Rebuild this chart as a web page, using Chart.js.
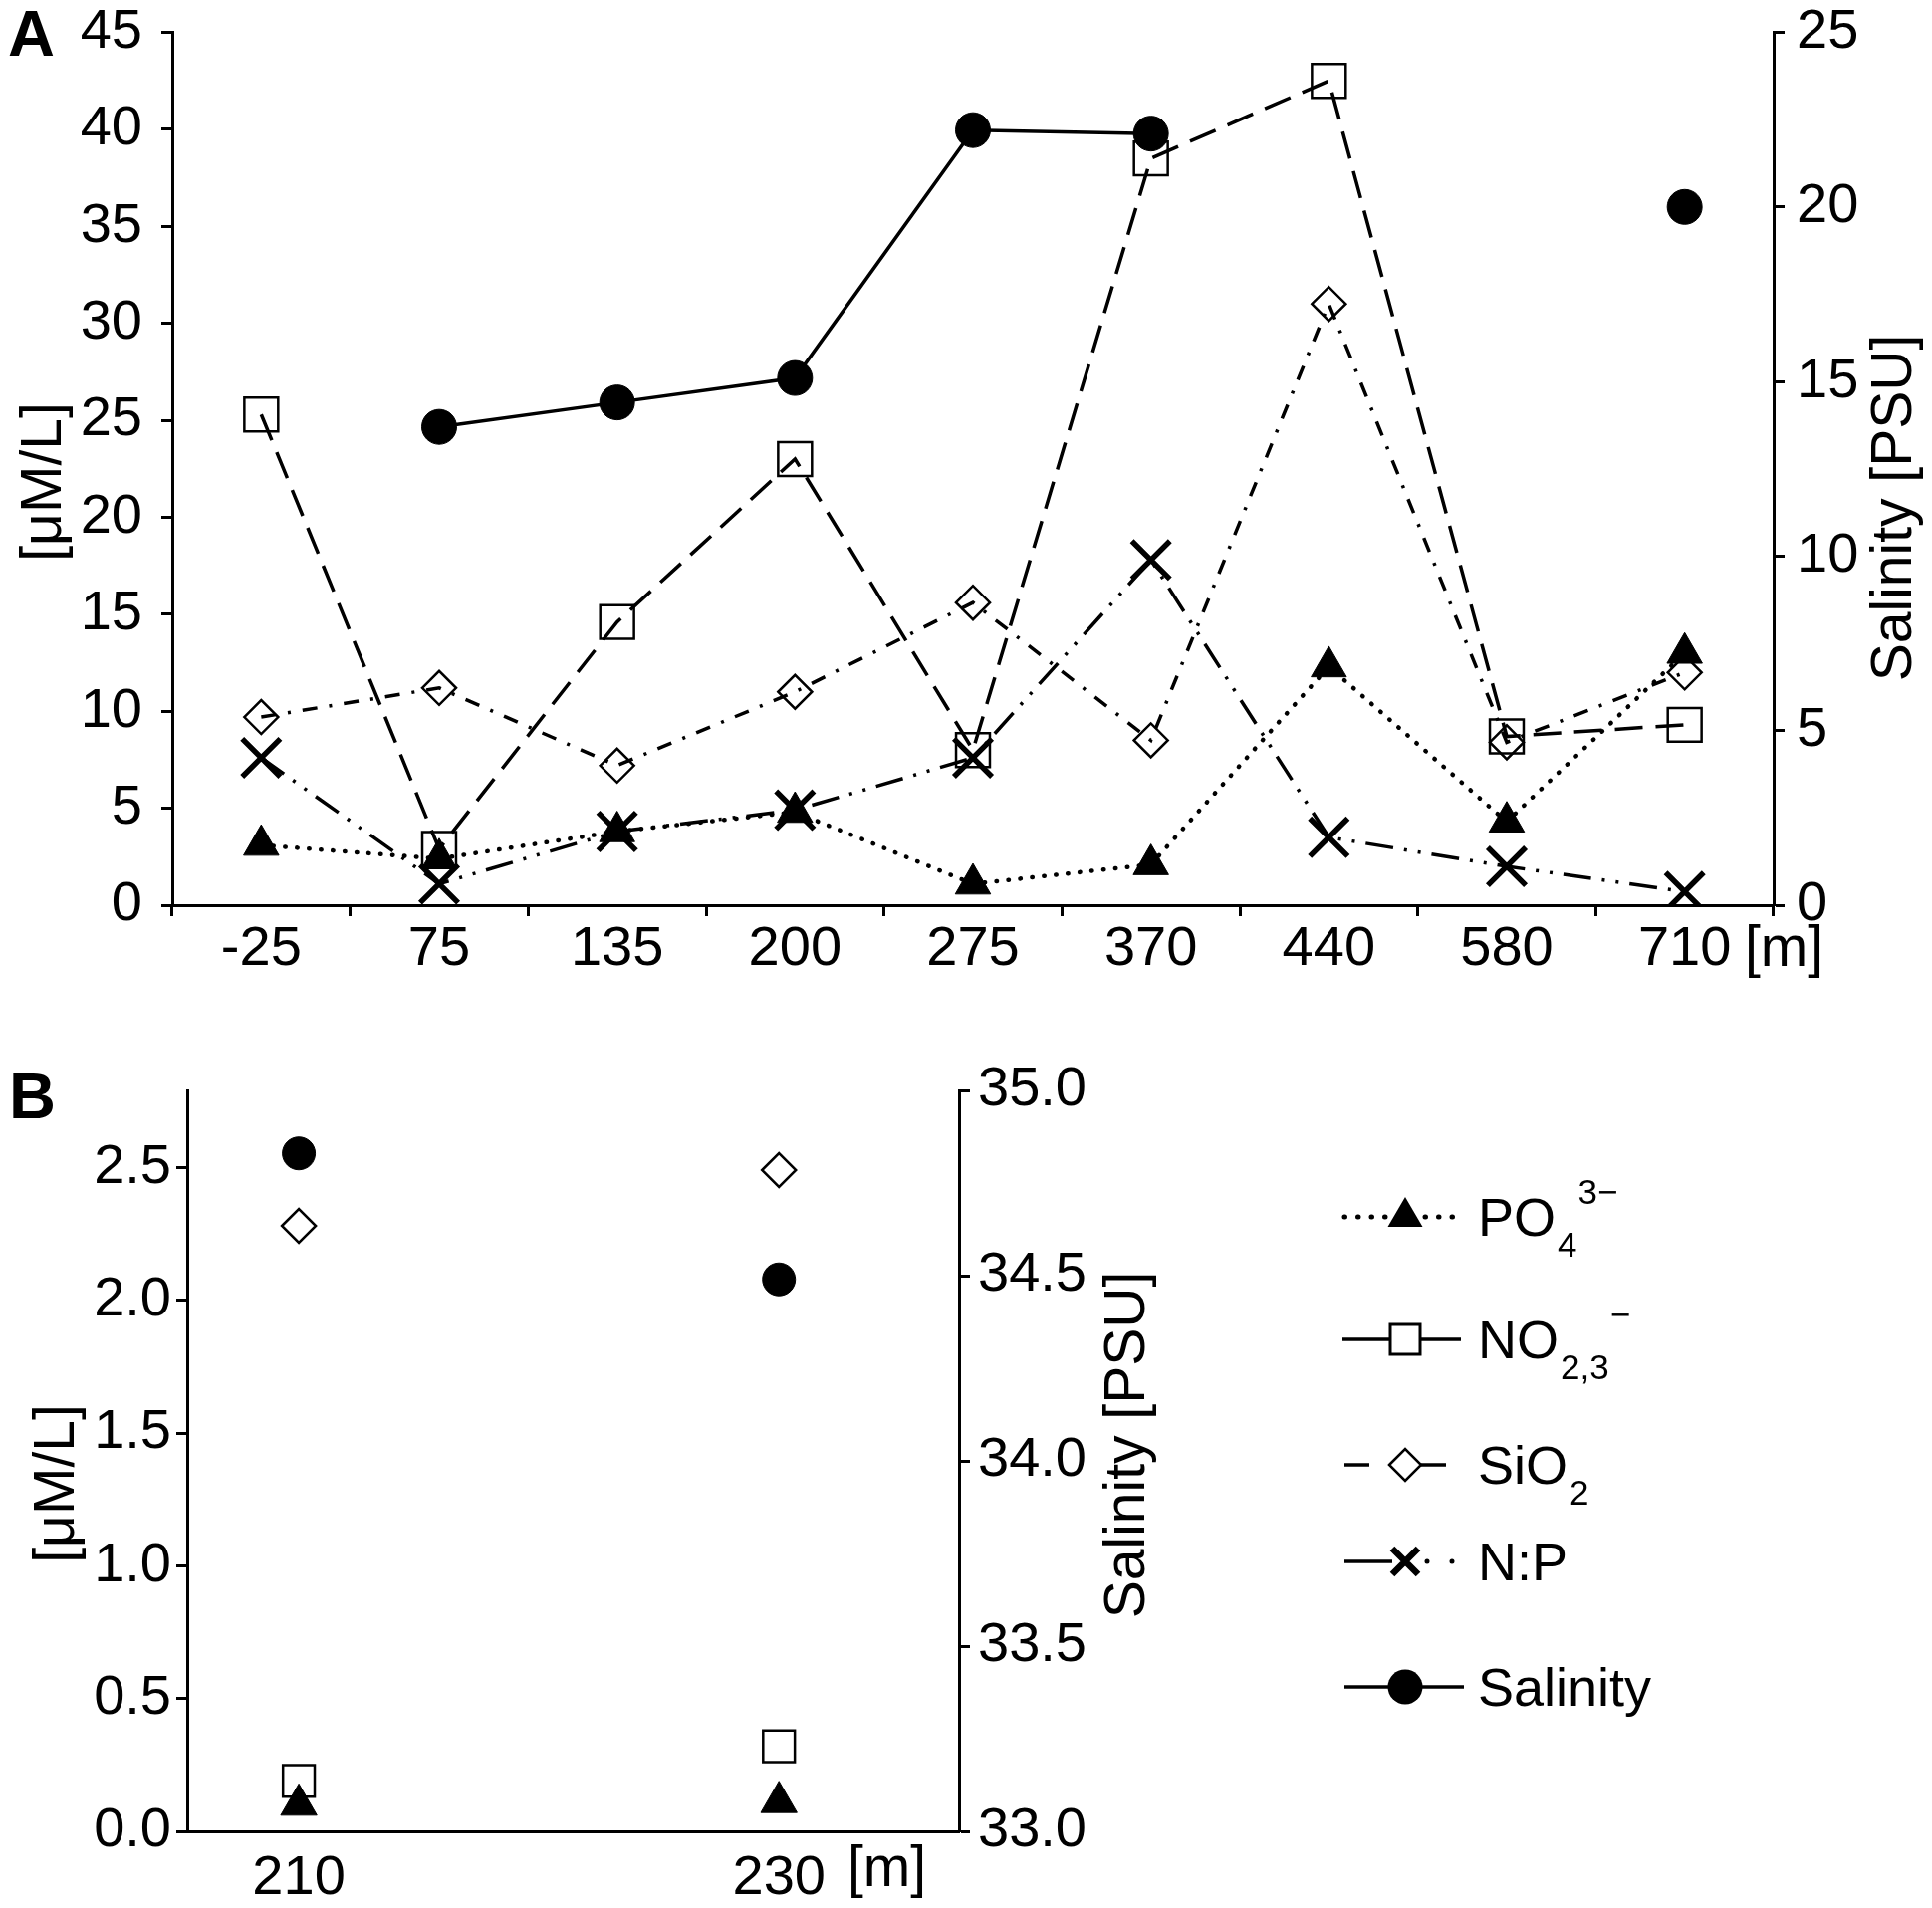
<!DOCTYPE html>
<html>
<head>
<meta charset="utf-8">
<script src="https://cdn.jsdelivr.net/npm/chart.js@4.4.1/dist/chart.umd.min.js"></script>
<style>
  html, body { margin: 0; padding: 0; background: #fff; }
  #wrap { position: relative; width: 1940px; height: 1916px; }
  canvas { position: absolute; left: 0; }
  #chartA { top: 0; }
  #chartB { top: 1010px; }
</style>
</head>
<body>
<div id="wrap">
  <canvas id="chartA" width="1940" height="1010"></canvas>
  <canvas id="chartB" width="1940" height="906"></canvas>
</div>
<script>
// Panel A - stations along the transect [m]
const depthsA = ["-25", "75", "135", "200", "275", "370", "440", "580", "710"];
const po4A = [3.1, 2.4, 3.8, 4.8, 1.1, 2.1, 12.3, 4.3, 13.0];
const no23A = [25.3, 2.9, 14.6, 23.0, 8.0, 38.5, 42.5, 8.7, 9.3];
const sio2A = [9.7, 11.2, 7.2, 11.0, 15.6, 8.5, 31.0, 8.4, 12.0];
const npA = [7.6, 1.1, 3.8, 4.9, 7.6, 17.8, 3.5, 2.0, 0.7];
const salinityA = [null, 13.7, 14.4, 15.1, 22.2, 22.1, null, null, 20.0];
const leftTicksA = [0, 5, 10, 15, 20, 25, 30, 35, 40, 45];
const rightTicksA = [0, 5, 10, 15, 20, 25];

// Panel B - two stations
const depthsB = [210, 230];
const po4B = [0.1, 0.11];
const no23B = [0.19, 0.32];
const sio2B = [2.28, 2.49];
const salinityB = [34.83, 34.49];
const leftTicksB = [0, 0.5, 1.0, 1.5, 2.0, 2.5];
const rightTicksB = [33.0, 33.5, 34.0, 34.5, 35.0];

const FONT = '"Liberation Sans", Arial, sans-serif';
const BLACK = "#000";
const CLEAR = "rgba(0,0,0,0)";
const xTickFont = { family: FONT, size: 56, lineHeight: 0.9 };
// small lineHeight keeps the top label from pushing the plot down
const yTickFont = { family: FONT, size: 56, lineHeight: 0.3 };

// marker / line looks per series
const looks = {
  po4: { borderWidth: 4.5, borderDash: [0.5, 11.5], borderCapStyle: "round",
         pointStyle: "triangle", pointRadius: 20.5, pointBackgroundColor: BLACK, pointBorderWidth: 1 },
  no23: { borderWidth: 3.5, borderDash: [28, 13],
          pointStyle: "rect", pointRadius: 24, pointBackgroundColor: CLEAR, pointBorderWidth: 2.5 },
  sio2: { borderWidth: 3.5, borderDash: [15, 12, 3, 12],
          pointStyle: "rectRot", pointRadius: 17, pointBackgroundColor: CLEAR, pointBorderWidth: 2.5 },
  np: { borderWidth: 3.5, borderDash: [28, 11, 3, 11, 3, 11],
        pointStyle: "crossRot", pointRadius: 27, pointBackgroundColor: BLACK, pointBorderWidth: 5.5 },
  sal: { borderWidth: 3.5, borderDash: [],
         pointStyle: "circle", pointRadius: 17.5, pointBackgroundColor: BLACK, pointBorderWidth: 1 },
};

function series(label, data, look, axis) {
  return Object.assign({
    label: label,
    data: data,
    yAxisID: axis,
    borderColor: BLACK,
    pointBorderColor: BLACK,
    pointHoverRadius: look.pointRadius,
    tension: 0,
    fill: false,
    spanGaps: false,
  }, look);
}

function fixedTicks(values) {
  return (scale) => { scale.ticks = values.map((v) => ({ value: v })); };
}

function yAxis(position, values, min, max, width, pad, digits) {
  return {
    type: "linear",
    position: position,
    min: min,
    max: max,
    afterBuildTicks: fixedTicks(values),
    afterFit: (s) => { s.width = width; },
    border: { display: true, color: BLACK, width: 3 },
    grid: { drawOnChartArea: false, color: BLACK, tickColor: BLACK, tickLength: 11, tickWidth: 3 },
    ticks: {
      color: BLACK, font: yTickFont, padding: pad,
      callback: (v) => digits ? Number(v).toFixed(digits) : v,
    },
  };
}

// free text: panel letters, axis titles, unit labels
function textPlugin(items) {
  return {
    id: "texts",
    afterDraw(chart) {
      const ctx = chart.ctx;
      items.forEach((t) => {
        ctx.save();
        ctx.fillStyle = BLACK;
        ctx.font = (t.bold ? "bold " : "") + t.size + "px " + FONT;
        ctx.textAlign = t.align || "left";
        ctx.textBaseline = t.baseline || "alphabetic";
        ctx.translate(t.x, t.y);
        if (t.rotate) ctx.rotate(-Math.PI / 2);
        ctx.fillText(t.text, 0, 0);
        ctx.restore();
      });
    },
  };
}

// legend with sub/superscripts, drawn next to panel B
function drawLabel(ctx, x, y, parts) {
  parts.forEach((p) => {
    const size = p.t === "n" ? 54 : 35;
    const dy = p.t === "sub" ? 21 : p.t === "sup" ? -32 : 0;
    ctx.font = size + "px " + FONT;
    ctx.fillText(p.s, x, y + dy);
    x += ctx.measureText(p.s).width + (p.t === "n" ? 2 : 1);
  });
}

const legendPlugin = {
  id: "legendB",
  afterDraw(chart) {
    const ctx = chart.ctx;
    const mx = 1411, tx = 1484;
    const rows = [212, 335, 461, 558, 684];
    ctx.save();
    ctx.strokeStyle = BLACK;
    ctx.fillStyle = BLACK;
    ctx.textBaseline = "alphabetic";
    ctx.textAlign = "left";

    // PO4
    let y = rows[0];
    ctx.lineWidth = 5; ctx.lineCap = "round"; ctx.setLineDash([0.5, 13]);
    ctx.beginPath(); ctx.moveTo(1350, y); ctx.lineTo(1468, y); ctx.stroke();
    ctx.setLineDash([]); ctx.lineCap = "butt";
    ctx.beginPath();
    ctx.moveTo(mx, y - 20); ctx.lineTo(mx + 17.5, y + 10); ctx.lineTo(mx - 17.5, y + 10);
    ctx.closePath(); ctx.fill();
    drawLabel(ctx, tx, y + 19, [{ s: "PO", t: "n" }, { s: "4", t: "sub" }, { s: "3\u2212", t: "sup" }]);

    // NO2,3
    y = rows[1];
    ctx.lineWidth = 3.5;
    ctx.beginPath(); ctx.moveTo(1348, y); ctx.lineTo(1467, y); ctx.stroke();
    ctx.fillStyle = "#fff"; ctx.fillRect(mx - 15, y - 15, 30, 30); ctx.fillStyle = BLACK;
    ctx.lineWidth = 3; ctx.strokeRect(mx - 15, y - 15, 30, 30);
    drawLabel(ctx, tx, y + 19, [{ s: "NO", t: "n" }, { s: "2,3", t: "sub" }, { s: "\u2212", t: "sup" }]);

    // SiO2
    y = rows[2];
    ctx.lineWidth = 3.5;
    ctx.beginPath(); ctx.moveTo(1350, y); ctx.lineTo(1375, y); ctx.moveTo(1427, y); ctx.lineTo(1452, y); ctx.stroke();
    ctx.lineWidth = 2.5;
    ctx.beginPath();
    ctx.moveTo(mx - 16, y); ctx.lineTo(mx, y - 16); ctx.lineTo(mx + 16, y); ctx.lineTo(mx, y + 16);
    ctx.closePath(); ctx.stroke();
    drawLabel(ctx, tx, y + 19, [{ s: "SiO", t: "n" }, { s: "2", t: "sub" }]);

    // N:P
    y = rows[3];
    ctx.lineWidth = 3.5;
    ctx.beginPath(); ctx.moveTo(1350, y); ctx.lineTo(1398, y); ctx.stroke();
    ctx.lineWidth = 6.5;
    ctx.beginPath();
    ctx.moveTo(mx - 13, y - 13); ctx.lineTo(mx + 13, y + 13);
    ctx.moveTo(mx + 13, y - 13); ctx.lineTo(mx - 13, y + 13);
    ctx.stroke();
    ctx.beginPath(); ctx.arc(1433, y, 2.5, 0, Math.PI * 2); ctx.arc(1458, y, 2.5, 0, Math.PI * 2); ctx.fill();
    drawLabel(ctx, tx, y + 19, [{ s: "N:P", t: "n" }]);

    // Salinity
    y = rows[4];
    ctx.lineWidth = 3.5;
    ctx.beginPath(); ctx.moveTo(1350, y); ctx.lineTo(1470, y); ctx.stroke();
    ctx.beginPath(); ctx.arc(mx, y, 17.5, 0, Math.PI * 2); ctx.fill();
    drawLabel(ctx, tx, y + 19, [{ s: "Salinity", t: "n" }]);

    ctx.restore();
  },
};

// ---------- Panel A ----------
new Chart(document.getElementById("chartA"), {
  type: "line",
  data: {
    labels: depthsA,
    datasets: [
      series("PO4", po4A, looks.po4, "y"),
      series("NO2,3", no23A, looks.no23, "y"),
      series("SiO2", sio2A, looks.sio2, "y"),
      series("N:P", npA, looks.np, "y"),
      series("Salinity", salinityA, looks.sal, "y2"),
    ],
  },
  options: {
    responsive: false,
    animation: false,
    devicePixelRatio: 1,
    layout: { padding: { top: 28, left: 0, right: 0, bottom: 0 } },
    plugins: { legend: { display: false }, tooltip: { enabled: false } },
    scales: {
      x: {
        type: "category",
        offset: true,
        afterFit: (s) => { s.height = 101; },
        border: { display: true, color: BLACK, width: 3 },
        grid: { offset: true, drawOnChartArea: false, color: BLACK, tickColor: BLACK, tickLength: 11, tickWidth: 3 },
        ticks: { color: BLACK, font: xTickFont, padding: 8, maxRotation: 0, autoSkip: false },
      },
      y: yAxis("left", leftTicksA, 0, 45, 173, 19, 0),
      y2: yAxis("right", rightTicksA, 0, 25, 159, 12, 0),
    },
  },
  plugins: [textPlugin([
    { text: "A", x: 8, y: 56, size: 65, bold: true },
    { text: "[\u03bcM/L]", x: 45, y: 484, size: 57, rotate: true, align: "center", baseline: "middle" },
    { text: "Salinity [PSU]", x: 1903, y: 510, size: 57, rotate: true, align: "center", baseline: "middle" },
    { text: "[m]", x: 1752, y: 954, size: 57, baseline: "middle" },
  ])],
});

// ---------- Panel B ----------
const pts = (vals) => depthsB.map((d, i) => ({ x: d, y: vals[i] }));

new Chart(document.getElementById("chartB"), {
  type: "scatter",
  data: {
    datasets: [
      series("PO4", pts(po4B), Object.assign({}, looks.po4, { pointRadius: 21 }), "y"),
      series("NO2,3", pts(no23B), Object.assign({}, looks.no23, { pointRadius: 22.5 }), "y"),
      series("SiO2", pts(sio2B), looks.sio2, "y"),
      series("Salinity", pts(salinityB), Object.assign({}, looks.sal, { pointRadius: 16.5 }), "y2"),
    ],
  },
  options: {
    responsive: false,
    animation: false,
    devicePixelRatio: 1,
    showLine: false,
    layout: { padding: { top: 85, left: 0, right: 0, bottom: 0 } },
    plugins: { legend: { display: false }, tooltip: { enabled: false } },
    scales: {
      x: {
        type: "linear",
        min: 205.35,
        max: 237.5,
        afterBuildTicks: fixedTicks(depthsB),
        afterFit: (s) => { s.height = 77; },
        border: { display: true, color: BLACK, width: 3 },
        grid: { display: false },
        ticks: { color: BLACK, font: xTickFont, padding: 14, maxRotation: 0 },
      },
      y: yAxis("left", leftTicksB, 0, 2.79, 188, 5, 1),
      y2: yAxis("right", rightTicksB, 33, 35, 977, 8, 1),
    },
  },
  plugins: [legendPlugin, textPlugin([
    { text: "B", x: 9, y: 113, size: 65, bold: true },
    { text: "[\u03bcM/L]", x: 58, y: 480, size: 57, rotate: true, align: "center", baseline: "middle" },
    { text: "Salinity [PSU]", x: 1133, y: 441, size: 57, rotate: true, align: "center", baseline: "middle" },
    { text: "[m]", x: 851, y: 868, size: 57, baseline: "middle" },
  ])],
});
</script>
</body>
</html>
